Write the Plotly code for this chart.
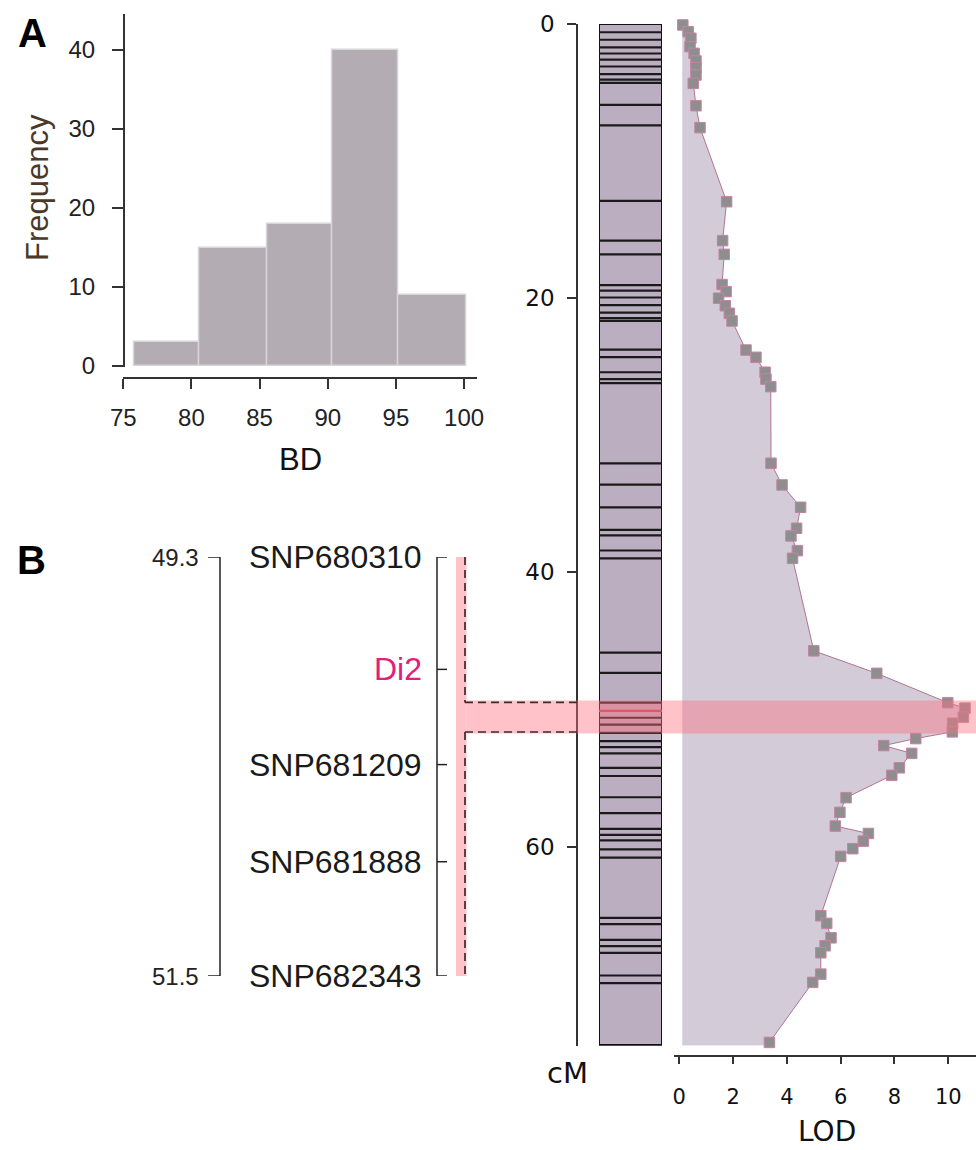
import plotly.graph_objects as go

W, H = 976, 1150

# ---------------- Panel A: histogram of BD ----------------
bd_edges = [75.8, 80.6, 85.6, 90.3, 95.2, 100.2]
bd_counts = [3, 15, 18, 40, 9]
hist_xticks = [75, 80, 85, 90, 95, 100]
hist_yticks = [0, 10, 20, 30, 40]

# ---------------- Linkage map / LOD profile ----------------
chrom_len = 74.5
markers_cm = [0.6, 1.15, 1.7, 2.15, 2.6, 3.1, 3.65, 4.05, 4.3, 5.9, 7.4, 12.9,
              15.8, 16.8, 19.05, 19.45, 19.95, 20.5, 21.05, 21.45, 21.65, 23.75,
              24.3, 25.4, 25.9, 26.2, 32.05, 33.6, 35.25, 36.9, 37.3, 38.4,
              38.97, 45.85, 47.33, 49.5, 50.6, 51.1, 51.7, 52.3, 52.75, 53.2,
              54.25, 54.85, 56.4, 57.55, 58.7, 59.15, 59.55, 60.2, 60.8, 65.2,
              65.65, 66.8, 67.25, 67.75, 69.4, 69.95]
di2_cm = 50.1

lod_cm = [0.07, 0.56, 1.04, 1.65, 2.14, 2.7, 3.19, 3.72, 4.33, 5.96, 7.56, 12.96,
          15.8, 16.8, 19.0, 19.52, 20.0, 20.55, 21.1, 21.66, 23.78, 24.31, 25.4,
          25.9, 26.45, 32.04, 33.62, 35.25, 36.78, 37.34, 38.41, 38.97, 45.72,
          47.36, 49.5, 49.9, 50.55, 51.0, 51.63, 52.12, 52.63, 53.2, 54.25, 54.8,
          56.43, 57.5, 58.5, 59.04, 59.6, 60.15, 60.71, 65.04, 65.6, 66.65, 67.23,
          67.74, 69.3, 69.9, 74.28]
lod_val = [0.13, 0.33, 0.43, 0.40, 0.55, 0.62, 0.62, 0.62, 0.52, 0.62, 0.77, 1.76,
           1.61, 1.67, 1.59, 1.74, 1.46, 1.71, 1.86, 1.96, 2.48, 2.85, 3.19, 3.22,
           3.40, 3.41, 3.82, 4.51, 4.36, 4.15, 4.39, 4.21, 5.0, 7.34, 9.98, 10.62,
           10.56, 10.16, 10.15, 8.79, 7.6, 8.64, 8.18, 7.9, 6.2, 5.97, 5.8, 7.03,
           6.84, 6.45, 6.0, 5.26, 5.48, 5.64, 5.42, 5.26, 5.26, 4.96, 3.35]
lod_base = 0.11

cm_ticks = [0, 20, 40, 60]
lod_ticks = [0, 2, 4, 6, 8, 10]

band_cm = [49.34, 51.75]
ci_cm = [49.48, 51.64]

# ---------------- Panel B: fine map ----------------
snp_labels = ["SNP680310", "Di2", "SNP681209", "SNP681888", "SNP682343"]
snp_pos = [49.3, 49.89, 50.39, 50.9, 51.5]
snp_colors = ["#1a1a1a", "#e0207a", "#1a1a1a", "#1a1a1a", "#1a1a1a"]


def px(x):
    return x / W


def py(y):
    return 1 - y / H


ARIAL = "Liberation Sans, Arial, sans-serif"
DEJAVU = "DejaVu Sans, sans-serif"

# axis geometry (pixels)
Y2_TOP, Y2_BOT = 24, 1045.7
Y2_RANGE = [74.52, 0]
Y3_TOP, Y3_BOT = 557, 976


def y2_paper(v):
    frac = (v - Y2_RANGE[1]) / (Y2_RANGE[0] - Y2_RANGE[1])
    return py(Y2_TOP + frac * (Y2_BOT - Y2_TOP))


def y3_paper(v):
    frac = (v - snp_pos[0]) / (snp_pos[-1] - snp_pos[0])
    return py(Y3_TOP + frac * (Y3_BOT - Y3_TOP))


fig = go.Figure()

# histogram bars
centers = [(a + b) / 2 for a, b in zip(bd_edges[:-1], bd_edges[1:])]
widths = [b - a for a, b in zip(bd_edges[:-1], bd_edges[1:])]
fig.add_trace(go.Bar(x=centers, y=bd_counts, width=widths,
                     marker=dict(color="#b3acb3", line=dict(color="#d6d6d6", width=1.5)),
                     xaxis="x", yaxis="y", showlegend=False, hoverinfo="skip"))

# LOD fill polygon
fx = [lod_base] + lod_val + [lod_val[-1], lod_base]
fy = [0] + lod_cm + [chrom_len, chrom_len]
fig.add_trace(go.Scatter(x=fx, y=fy, fill="toself", fillcolor="#d3cbd7",
                         mode="lines", line=dict(width=0), xaxis="x2", yaxis="y2",
                         showlegend=False, hoverinfo="skip"))
# LOD curve
fig.add_trace(go.Scatter(x=lod_val, y=lod_cm, mode="lines+markers",
                         line=dict(color="#b07592", width=1),
                         marker=dict(symbol="square", size=10.5, color="#8e8e8e",
                                     line=dict(color="#c484a4", width=1)),
                         xaxis="x2", yaxis="y2", cliponaxis=False,
                         showlegend=False, hoverinfo="skip"))

# chromosome bar
fig.add_trace(go.Bar(x=[1], y=[chrom_len], base=0, width=1,
                     marker=dict(color="#baaec0", line=dict(color="#111111", width=2)),
                     xaxis="x3", yaxis="y2", showlegend=False, hoverinfo="skip",
                     cliponaxis=False))
mx, my = [], []
for m in markers_cm:
    mx += [0.5, 1.5, None]
    my += [m, m, None]
fig.add_trace(go.Scatter(x=mx, y=my, mode="lines", line=dict(color="#1a1a1a", width=2.2),
                         xaxis="x3", yaxis="y2", showlegend=False, hoverinfo="skip"))
fig.add_trace(go.Scatter(x=[0.5, 1.5], y=[di2_cm, di2_cm], mode="lines",
                         line=dict(color="#d8404f", width=2.2),
                         xaxis="x3", yaxis="y2", showlegend=False, hoverinfo="skip"))

# Panel B brackets
lb_x = [208, 220, 220, 208]
lb_y = [snp_pos[0], snp_pos[0], snp_pos[-1], snp_pos[-1]]
fig.add_trace(go.Scatter(x=lb_x, y=lb_y, mode="lines", line=dict(color="#222", width=1.5),
                         xaxis="x4", yaxis="y3", showlegend=False, hoverinfo="skip",
                         cliponaxis=False))
rbx, rby = [437, 437, None], [snp_pos[0], snp_pos[-1], None]
for p in snp_pos:
    rbx += [437, 447, None]
    rby += [p, p, None]
fig.add_trace(go.Scatter(x=rbx, y=rby, mode="lines", line=dict(color="#222", width=1.5),
                         xaxis="x4", yaxis="y3", showlegend=False, hoverinfo="skip",
                         cliponaxis=False))

band_color = "rgba(255,110,125,0.42)"
dash_line = dict(color="#3f2a2a", width=1.7, dash="8px,5px")
shapes = [
    dict(type="rect", xref="paper", yref="y2", x0=px(466.5), x1=1.0,
         y0=band_cm[0], y1=band_cm[1], fillcolor=band_color, line=dict(width=0),
         layer="above"),
    dict(type="rect", xref="paper", yref="y3", x0=px(456), x1=px(466.5),
         y0=snp_pos[0], y1=snp_pos[-1], fillcolor=band_color, line=dict(width=0),
         layer="above"),
    dict(type="line", xref="paper", yref="y2", x0=px(465), x1=px(577),
         y0=ci_cm[0], y1=ci_cm[0], line=dash_line, layer="above"),
    dict(type="line", xref="paper", yref="y2", x0=px(465), x1=px(577),
         y0=ci_cm[1], y1=ci_cm[1], line=dash_line, layer="above"),
    dict(type="line", xref="paper", yref="paper", x0=px(465), x1=px(465),
         y0=y3_paper(snp_pos[0]), y1=y2_paper(ci_cm[0]), line=dash_line, layer="above"),
    dict(type="line", xref="paper", yref="paper", x0=px(465), x1=px(465),
         y0=y2_paper(ci_cm[1]), y1=y3_paper(snp_pos[-1]), line=dash_line, layer="above"),
]


def ann(text, x, y, yref="paper", xanchor="center", font=None, **kw):
    return dict(text=text, x=x, y=y, xref="paper", yref=yref, xanchor=xanchor,
                yanchor="middle", showarrow=False, font=font, **kw)


annotations = [
    ann("<b>A</b>", px(32), py(33), font=dict(family=ARIAL, size=40, color="#000")),
    ann("<b>B</b>", px(31), py(560), font=dict(family=ARIAL, size=40, color="#000")),
    ann("Frequency", px(38), py(188), textangle=-90,
        font=dict(family=ARIAL, size=31, color="#4a3828")),
    ann("BD", px(300), py(459), font=dict(family=ARIAL, size=31, color="#111")),
    ann("cM", px(567), py(1073), font=dict(family=DEJAVU, size=29, color="#111")),
    ann("LOD", px(827), py(1131), font=dict(family=DEJAVU, size=28, color="#111")),
    ann(f"{snp_pos[0]}", px(201), snp_pos[0], yref="y3", xanchor="right",
        font=dict(family=ARIAL, size=24, color="#222")),
    ann(f"{snp_pos[-1]}", px(201), snp_pos[-1], yref="y3", xanchor="right",
        font=dict(family=ARIAL, size=24, color="#222")),
]
for lab, pos, col in zip(snp_labels, snp_pos, snp_colors):
    annotations.append(ann(lab, px(424), pos, yref="y3", xanchor="right",
                           font=dict(family=ARIAL, size=32, color=col)))

axis_common = dict(showgrid=False, zeroline=False, showline=True, ticks="outside",
                   automargin=False)

fig.update_layout(
    template="none",
    width=W, height=H, margin=dict(l=0, r=0, t=0, b=0, pad=0, autoexpand=False),
    paper_bgcolor="white", plot_bgcolor="rgba(0,0,0,0)",
    showlegend=False, bargap=0,
    xaxis=dict(domain=[px(123.3), px(477)], range=[75.0, 100.95], anchor="free",
               position=py(378.3), tickvals=hist_xticks, ticklen=10, tickwidth=2,
               linecolor="#333", linewidth=2, tickcolor="#333",
               tickfont=dict(family=ARIAL, size=24, color="#222"),
               ticklabelstandoff=8, **axis_common),
    yaxis=dict(domain=[py(366.7), py(14)], range=[-0.09, 44.56], anchor="free",
               position=px(124), tickvals=hist_yticks, ticklen=11, tickwidth=2,
               linecolor="#333", linewidth=2, tickcolor="#333",
               tickfont=dict(family=ARIAL, size=24, color="#222"),
               ticklabelstandoff=12, **axis_common),
    xaxis2=dict(domain=[px(674), 1.0], range=[-0.197, 11.03], anchor="free",
                position=py(1055.7), tickvals=lod_ticks, ticklen=8, tickwidth=1.5,
                linecolor="#333", linewidth=1.5, tickcolor="#333",
                tickfont=dict(family=DEJAVU, size=21, color="#111"),
                ticklabelstandoff=14, **axis_common),
    yaxis2=dict(domain=[py(Y2_BOT), py(Y2_TOP)], range=Y2_RANGE, anchor="free",
                position=px(577), tickvals=cm_ticks, ticklen=9, tickwidth=1.5,
                linecolor="#333", linewidth=1.5, tickcolor="#333",
                tickfont=dict(family=DEJAVU, size=23, color="#111"),
                ticklabelstandoff=8, **axis_common),
    xaxis3=dict(domain=[px(599), px(662)], range=[0.5, 1.5], anchor="y2", visible=False,
                automargin=False),
    yaxis3=dict(domain=[py(Y3_BOT), py(Y3_TOP)], range=[snp_pos[-1], snp_pos[0]],
                anchor="x4", visible=False, automargin=False),
    xaxis4=dict(domain=[0, 1], range=[0, W], anchor="y3", visible=False, automargin=False),
    shapes=shapes, annotations=annotations,
)

fig.write_html("out.html", config={"displayModeBar": False},
               post_script="document.body.style.margin='0px';"
                           "document.body.style.overflow='hidden';")
